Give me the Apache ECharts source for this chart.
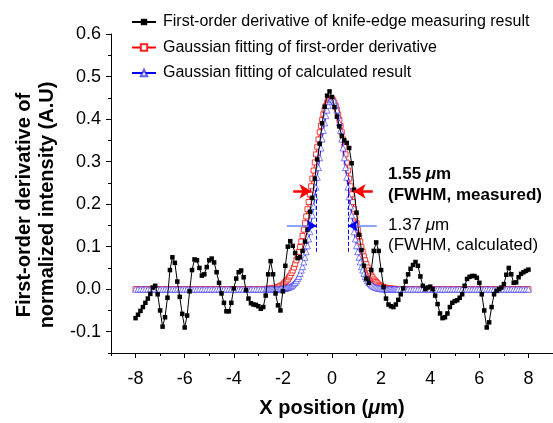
<!DOCTYPE html>
<html>
<head>
<meta charset="utf-8">
<script src="https://cdn.jsdelivr.net/npm/echarts@6/dist/echarts.min.js"></script>
<style>
  html, body { margin: 0; padding: 0; background: #fff; }
  #chart { width: 553px; height: 423px; }
</style>
</head>
<body>
<div id="chart"></div>
<script>
// names used in the legend
var blackName = 'First-order derivative of knife-edge measuring result';
var redName = 'Gaussian fitting of first-order derivative';
var blueName = 'Gaussian fitting of calculated result';

// measured derivative, x = -8.0 ... 8.0 every 0.1 um
var measuredY = [
  -0.068, -0.060, -0.051, -0.042, -0.032, -0.022, -0.011, 0.004, 0.008, -0.012,
  -0.050, -0.088, -0.066, -0.020, 0.045, 0.075, 0.062, 0.018, -0.018, -0.058,
  -0.090, -0.062, -0.005, 0.045, 0.070, 0.068, 0.050, 0.032, 0.035, 0.052,
  0.068, 0.072, 0.063, 0.040, 0.015, -0.010, -0.032, -0.052, -0.052, -0.032,
  0.002, 0.025, 0.040, 0.044, 0.028, -0.002, -0.022, -0.033, -0.036, -0.037,
  -0.040, -0.046, -0.042, -0.015, 0.035, 0.066, 0.035, -0.010, -0.038, -0.050,
  -0.005, 0.055, 0.100, 0.113, 0.102, 0.085, 0.073, 0.075, 0.090, 0.112,
  0.140, 0.182, 0.215, 0.260, 0.305, 0.342, 0.390, 0.429, 0.455, 0.465,
  0.452, 0.428, 0.406, 0.383, 0.360, 0.350, 0.344, 0.332, 0.296, 0.234,
  0.180, 0.128, 0.092, 0.055, 0.025, 0.015, 0.045, 0.090, 0.110, 0.090,
  0.045, 0.005, -0.022, -0.036, -0.040, -0.042, -0.036, -0.025, -0.012, 0.002,
  0.018, 0.035, 0.048, 0.057, 0.064, 0.055, 0.030, 0.008, 0.000, 0.004,
  0.006, 0.000, -0.015, -0.035, -0.057, -0.068, -0.066, -0.057, -0.042, -0.032,
  -0.028, -0.026, -0.020, -0.012, 0.008, 0.024, 0.029, 0.031, 0.031, 0.027,
  0.015, -0.012, -0.050, -0.090, -0.078, -0.042, -0.012, -0.004, 0.000, 0.004,
  0.012, 0.034, 0.050, 0.035, 0.015, 0.016, 0.028, 0.036, 0.040, 0.043,
  0.046
];

// flat part of the fits (54 points each side, every 0.1 um)
var fitTail = [
  0, 0, 0, 0, 0, 0, 0, 0, 0, 0, 0, 0, 0, 0, 0, 0, 0, 0,
  0, 0, 0, 0, 0, 0, 0, 0, 0, 0, 0, 0, 0, 0, 0, 0, 0, 0,
  0, 0, 0, 0, 0, 0, 0, 0, 0, 0, 0, 0, 0, 0, 0, 0, 0, 0
];

// centre of the fits, x = -2.65 ... 2.65 every 0.05 um
var redCentre = [
  0.001, 0.001, 0.001, 0.001, 0.002, 0.002, 0.003, 0.003, 0.004, 0.005,
  0.006, 0.008, 0.009, 0.011, 0.014, 0.017, 0.020, 0.023, 0.028, 0.032,
  0.038, 0.044, 0.051, 0.059, 0.068, 0.077, 0.088, 0.099, 0.112, 0.125,
  0.140, 0.155, 0.171, 0.188, 0.205, 0.223, 0.242, 0.260, 0.279, 0.298,
  0.317, 0.335, 0.352, 0.369, 0.384, 0.398, 0.411, 0.422, 0.431, 0.438,
  0.444, 0.447, 0.448,
  0.447, 0.444, 0.438, 0.431, 0.422, 0.411, 0.398, 0.384, 0.369, 0.352,
  0.335, 0.317, 0.298, 0.279, 0.260, 0.242, 0.223, 0.205, 0.188, 0.171,
  0.155, 0.140, 0.125, 0.112, 0.099, 0.088, 0.077, 0.068, 0.059, 0.051,
  0.044, 0.038, 0.032, 0.028, 0.023, 0.020, 0.017, 0.014, 0.011, 0.009,
  0.008, 0.006, 0.005, 0.004, 0.003, 0.003, 0.002, 0.002, 0.001, 0.001,
  0.001, 0.001, 0.000, 0.000
];
var blueCentre = [
  0, 0, 0, 0, 0, 0, 0, 0, 0, 0, 0,
  0.001, 0.001, 0.001, 0.002, 0.002, 0.003, 0.004, 0.005, 0.006, 0.008,
  0.010, 0.013, 0.016, 0.020, 0.025, 0.030, 0.037, 0.045, 0.053, 0.064,
  0.075, 0.088, 0.102, 0.118, 0.135, 0.154, 0.174, 0.195, 0.217, 0.240,
  0.263, 0.286, 0.309, 0.332, 0.353, 0.373, 0.391, 0.408, 0.421, 0.432,
  0.441, 0.445, 0.447,
  0.445, 0.441, 0.432, 0.421, 0.408, 0.391, 0.373, 0.353, 0.332, 0.309,
  0.286, 0.263, 0.240, 0.217, 0.195, 0.174, 0.154, 0.135, 0.118, 0.102,
  0.088, 0.075, 0.064, 0.053, 0.045, 0.037, 0.030, 0.025, 0.020, 0.016,
  0.013, 0.010, 0.008, 0.006, 0.005, 0.004, 0.003, 0.002, 0.002, 0.001,
  0.001, 0.001,
  0, 0, 0, 0, 0, 0, 0, 0, 0, 0, 0
];

// axis ticks
var xMajorTicks = [-8, -6, -4, -2, 0, 2, 4, 6, 8];
var xMinorTicks = [-9, -7, -5, -3, -1, 1, 3, 5, 7, 9];
var yMajorTicks = [-0.1, 0, 0.1, 0.2, 0.3, 0.4, 0.5, 0.6];
var yMinorTicks = [-0.15, -0.05, 0.05, 0.15, 0.25, 0.35, 0.45, 0.55];

// FWHM markers [x, y] in data units
var redArrows = [[[-1.58, 0.23], [-0.84, 0.23]], [[1.66, 0.23], [0.88, 0.23]]];
var blueShafts = [[[-1.84, 0.149], [-0.66, 0.149]], [[1.82, 0.149], [0.69, 0.149]]];
var blueHeads = [[[-0.95, 0.149], [-0.63, 0.149]], [[0.98, 0.149], [0.66, 0.149]]];
var blueDashes = [[[-0.63, 0.088], [-0.63, 0.262]], [[0.66, 0.088], [0.66, 0.262]]];

function steps(a, b, h) {
  var out = [];
  var n = Math.round((b - a) / h);
  for (var i = 0; i <= n; i++) out.push(+(a + i * h).toFixed(2));
  return out;
}
function pairs(xs, ys) {
  return xs.map(function (x, i) { return [x, ys[i]]; });
}
function segs(list, lineStyle, endSymbol, size) {
  return list.map(function (s) {
    return [
      { coord: s[0], symbol: 'none', lineStyle: lineStyle },
      { coord: s[1], symbol: endSymbol, symbolSize: size }
    ];
  });
}

var measX = steps(-8, 8, 0.1);
var fitX = steps(-8, -2.7, 0.1).concat(steps(-2.65, 2.65, 0.05), steps(2.7, 8, 0.1));
var redFit = fitTail.concat(redCentre, fitTail);
var blueFit = fitTail.concat(blueCentre, fitTail);

var font = '"Liberation Sans", Arial, sans-serif';
var chart = echarts.init(document.getElementById('chart'));

var option = {
  animation: false,
  textStyle: { fontFamily: font },
  grid: { left: 111, top: 34, width: 443.6, height: 326, containLabel: false },
  legend: {
    orient: 'vertical',
    left: 131,
    top: 14,
    padding: 0,
    itemWidth: 24,
    itemHeight: 8,
    itemGap: 9.5,
    data: [blackName, redName, blueName],
    textStyle: { fontSize: 16, color: '#000', fontFamily: font, padding: [0, 0, 0, 2] }
  },
  xAxis: [{
    type: 'value', min: -9, max: 9, position: 'bottom',
    axisLine: { onZero: false, lineStyle: { color: '#000', width: 1 } },
    axisTick: { length: 5, lineStyle: { color: '#000' }, customValues: xMajorTicks },
    axisLabel: { customValues: xMajorTicks, fontSize: 18, color: '#000', margin: 17, fontFamily: font },
    splitLine: { show: false },
    name: '{n|X position (}{i|\u03bc}{n|m)}',
    nameLocation: 'middle',
    nameGap: 45,
    nameTextStyle: {
      fontSize: 20, fontWeight: 'bold', color: '#000', fontFamily: font,
      rich: {
        n: { fontSize: 20, fontWeight: 'bold', color: '#000', fontFamily: font },
        i: { fontSize: 20, fontWeight: 'bold', fontStyle: 'italic', color: '#000', fontFamily: font }
      }
    }
  }, {
    type: 'value', min: -9, max: 9, position: 'bottom',
    axisLine: { show: false, onZero: false },
    axisTick: { length: 3, lineStyle: { color: '#000' }, customValues: xMinorTicks },
    axisLabel: { show: false },
    splitLine: { show: false }
  }],
  yAxis: [{
    type: 'value', min: -0.15, max: 0.6, position: 'left',
    axisLine: { show: true, onZero: false, lineStyle: { color: '#000', width: 1 } },
    axisTick: { show: true, length: 5, lineStyle: { color: '#000' }, customValues: yMajorTicks },
    axisLabel: {
      customValues: yMajorTicks, fontSize: 18, color: '#000', margin: 10, fontFamily: font,
      formatter: function (v) { return (+v).toFixed(1); }
    },
    splitLine: { show: false }
  }, {
    type: 'value', min: -0.15, max: 0.6, position: 'left',
    axisLine: { show: false, onZero: false },
    axisTick: { show: true, length: 3, lineStyle: { color: '#000' }, customValues: yMinorTicks },
    axisLabel: { show: false },
    splitLine: { show: false }
  }],
  graphic: [
    {
      type: 'text', x: 36, y: 205, rotation: Math.PI / 2,
      style: {
        text: 'First-order derivative of\nnormalized intensity (A.U)',
        font: 'bold 20px ' + font, fill: '#000',
        textAlign: 'center', textVerticalAlign: 'middle', lineHeight: 23
      }
    },
    {
      type: 'text', x: 388, y: 174,
      style: {
        text: '{b|1.55 }{bi|\u03bc}{b|m}',
        textVerticalAlign: 'middle', textAlign: 'left',
        rich: {
          b: { fontSize: 17, fontWeight: 'bold', fontFamily: font, fill: '#000' },
          bi: { fontSize: 17, fontWeight: 'bold', fontStyle: 'italic', fontFamily: font, fill: '#000' }
        }
      }
    },
    {
      type: 'text', x: 388, y: 195,
      style: {
        text: '(FWHM, measured)', font: 'bold 17px ' + font, fill: '#000',
        textVerticalAlign: 'middle', textAlign: 'left'
      }
    },
    {
      type: 'text', x: 388, y: 225,
      style: {
        text: '{n|1.37 }{i|\u03bc}{n|m}',
        textVerticalAlign: 'middle', textAlign: 'left',
        rich: {
          n: { fontSize: 17, fontFamily: font, fill: '#000' },
          i: { fontSize: 17, fontStyle: 'italic', fontFamily: font, fill: '#000' }
        }
      }
    },
    {
      type: 'text', x: 388, y: 245,
      style: {
        text: '(FWHM, calculated)', font: '17px ' + font, fill: '#000',
        textVerticalAlign: 'middle', textAlign: 'left'
      }
    }
  ],
  series: [
    {
      name: redName, type: 'line', data: pairs(fitX, redFit),
      symbol: 'rect', symbolSize: 5, z: 2,
      itemStyle: { color: '#fff', borderColor: '#ff2020', borderWidth: 0.9 },
      lineStyle: { color: '#ff0000', width: 1 }
    },
    {
      name: blueName, type: 'line', data: pairs(fitX, blueFit),
      symbol: 'triangle', symbolSize: 6, z: 3,
      itemStyle: { color: '#fff', borderColor: 'rgba(40,40,255,0.75)', borderWidth: 0.8 },
      lineStyle: { color: '#0000ff', width: 1 }
    },
    {
      name: blackName, type: 'line', data: pairs(measX, measuredY),
      symbol: 'rect', symbolSize: 4.5, z: 4,
      itemStyle: { color: '#000' },
      lineStyle: { color: '#000', width: 1 }
    },
    {
      name: 'marks', type: 'line', data: [], z: 5,
      markLine: {
        silent: true, animation: false,
        symbol: 'none',
        label: { show: false },
        emphasis: { disabled: true },
        data: segs(blueDashes, { color: '#0000ff', width: 1, type: [4, 2] }, 'none', 1)
          .concat(segs(blueShafts, { color: '#6a86ff', width: 1.5, type: 'solid' }, 'none', 1))
          .concat(segs(blueHeads, { color: '#0000ee', width: 1.5, type: 'solid' }, 'arrow', [9, 10]))
          .concat(segs(redArrows, { color: '#ff0000', width: 2.5, type: 'solid' }, 'arrow', [11, 12]))
      }
    }
  ]
};

chart.setOption(option);
</script>
</body>
</html>
